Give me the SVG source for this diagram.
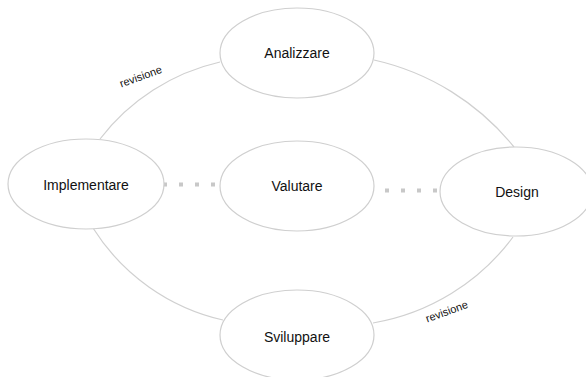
<svg xmlns="http://www.w3.org/2000/svg" width="586" height="377" viewBox="0 0 586 377">
<style>
.node ellipse{fill:#fff;stroke:#cfcfcf;stroke-width:1.2}
.node text{font-family:"Liberation Sans",Arial,sans-serif;font-size:14px;fill:#111;text-anchor:middle;dominant-baseline:central}
.edge{fill:none;stroke:#d0d0d0;stroke-width:1.2}
.dots{fill:none;stroke:#c8c8c8;stroke-width:4;stroke-dasharray:4 12}
.lbl{font-family:"Liberation Sans",Arial,sans-serif;font-size:11px;fill:#111;text-anchor:middle}
</style>
<rect width="586" height="377" fill="#fff"/>
<g id="connectors">
<path class="edge" d="M100,139 A210,210 0 0 1 220,62"/>
<path class="edge" d="M374,60 A250,250 0 0 1 514,147"/>
<path class="edge" d="M93,228 A208,208 0 0 0 223,320"/>
<path class="edge" d="M513,237 A220,220 0 0 1 373,323"/>
<path class="dots" d="M163,184.5 L219,184.5"/>
<path class="dots" d="M385,190.5 L441,190.5"/>
<text class="lbl" transform="translate(142,80) rotate(-20)">revisione</text>
<text class="lbl" transform="translate(448,315) rotate(-20)">revisione</text>
</g>
<g id="analizzare" class="node"><ellipse cx="297" cy="53" rx="77" ry="45"/><text x="297" y="53">Analizzare</text></g>
<g id="implementare" class="node"><ellipse cx="86" cy="184" rx="78" ry="45"/><text x="86" y="185">Implementare</text></g>
<g id="valutare" class="node"><ellipse cx="297" cy="186" rx="77" ry="45"/><text x="297" y="186">Valutare</text></g>
<g id="design" class="node"><ellipse cx="516" cy="191.5" rx="76" ry="44.5"/><text x="517" y="192">Design</text></g>
<g id="sviluppare" class="node"><ellipse cx="297" cy="335" rx="77" ry="45"/><text x="297" y="337">Sviluppare</text></g>
</svg>
